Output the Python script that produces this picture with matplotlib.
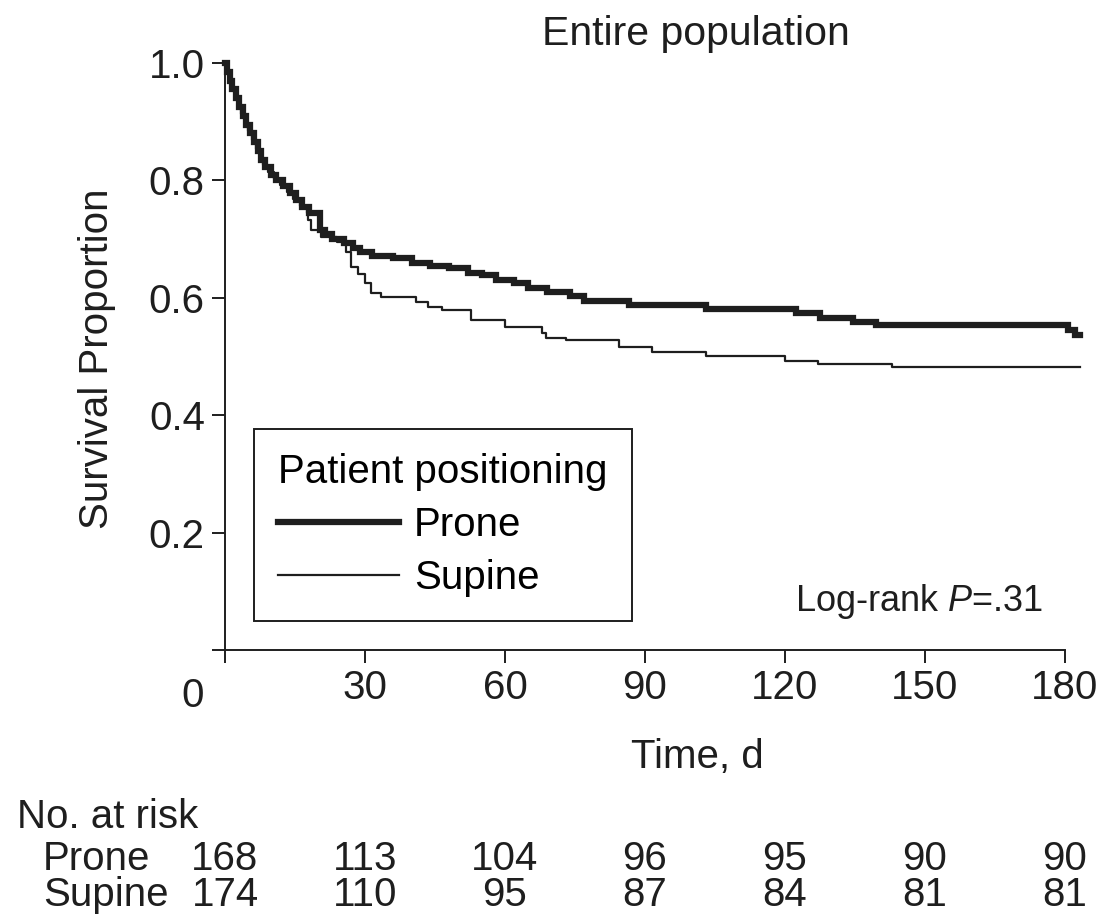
import matplotlib
matplotlib.use('Agg')
import matplotlib.pyplot as plt
import matplotlib.transforms as mtransforms

# Kaplan-Meier steps (time in days, survival after each step)
prone_t = [0, 0.5, 1.0, 1.6, 2.3, 3.0, 3.8, 4.6, 5.3, 6.2, 7.0, 7.7, 8.6, 9.8,
           11.0, 12.5, 14.0, 15.2, 16.5, 18.0, 20.4, 21.5, 23.0, 25.5, 27.5,
           29.0, 31.5, 36.0, 40.0, 44.0, 48.0, 52.0, 55.0, 58.0, 62.0, 65.0,
           69.0, 74.0, 77.0, 86.6, 103.0, 122.4, 127.4, 134.5, 139.6, 180.6,
           182.2, 183.2]
prone_s = [1.0, 0.985, 0.970, 0.955, 0.940, 0.925, 0.910, 0.895, 0.880, 0.865,
           0.850, 0.835, 0.822, 0.810, 0.800, 0.790, 0.778, 0.766, 0.755, 0.744,
           0.715, 0.708, 0.700, 0.693, 0.685, 0.678, 0.672, 0.667, 0.660, 0.655,
           0.650, 0.643, 0.638, 0.630, 0.625, 0.617, 0.610, 0.603, 0.594, 0.588,
           0.581, 0.574, 0.566, 0.559, 0.553, 0.545, 0.537, 0.537]

supine_t = [0, 0.4, 0.9, 1.5, 2.1, 2.8, 3.5, 4.3, 5.0, 5.8, 6.6, 7.4, 8.2, 9.2,
            10.4, 11.8, 13.2, 14.6, 16.0, 17.5, 17.8, 18.5, 20.6, 24.0, 26.0,
            27.1, 28.5, 30.0, 31.3, 33.5, 41.0, 43.5, 46.4, 52.8, 60.1, 67.9,
            68.7, 73.0, 84.4, 91.5, 103.0, 120.0, 127.0, 143.0, 183.2]
supine_s = [1.0, 0.986, 0.972, 0.957, 0.943, 0.928, 0.913, 0.898, 0.884, 0.869,
            0.854, 0.839, 0.826, 0.814, 0.802, 0.792, 0.780, 0.768, 0.757, 0.745,
            0.733, 0.716, 0.704, 0.695, 0.678, 0.652, 0.640, 0.625, 0.608, 0.601,
            0.593, 0.585, 0.579, 0.562, 0.550, 0.540, 0.532, 0.528, 0.516, 0.508,
            0.501, 0.492, 0.487, 0.482, 0.482]

# Number at risk table
risk_times = [0, 30, 60, 90, 120, 150, 180]
prone_risk = [168, 113, 104, 96, 95, 90, 90]
supine_risk = [174, 110, 95, 87, 84, 81, 81]

x_ticks = [0, 30, 60, 90, 120, 150, 180]
y_ticks = [0, 0.2, 0.4, 0.6, 0.8, 1.0]

# Style
plt.rcParams['font.family'] = ['Liberation Sans', 'DejaVu Sans']
plt.rcParams['mathtext.fontset'] = 'custom'
plt.rcParams['mathtext.it'] = 'Liberation Sans:italic'
plt.rcParams['mathtext.rm'] = 'Liberation Sans'
ink = '#1e1e1e'
fs = 29
W, H = 1104, 922

def fx(px):
    return px / W

def fy(py):
    return 1 - py / H

fig = plt.figure(figsize=(W / 100, H / 100), dpi=100)
ax = fig.add_axes([fx(225), fy(650), fx(1065) - fx(225), fy(63) - fy(650)])

# Curves
ax.step(prone_t, prone_s, where='post', color=ink, lw=4.5, clip_on=False,
        solid_joinstyle='miter', label='Prone')
ax.step(supine_t, supine_s, where='post', color=ink, lw=1.6, clip_on=False,
        label='Supine')

ax.set_xlim(0, 180)
ax.set_ylim(0, 1.0)

# Axes look
for side in ['top', 'right']:
    ax.spines[side].set_visible(False)
for side in ['left', 'bottom']:
    ax.spines[side].set_linewidth(1.4)
    ax.spines[side].set_color(ink)

ax.set_xticks(x_ticks)
ax.set_xticklabels([''] + [str(t) for t in x_ticks[1:]])
ax.set_yticks(y_ticks)
ax.set_yticklabels([''] + ['%.1f' % v for v in y_ticks[1:]])
ax.tick_params(axis='both', direction='out', length=9.5, width=1.4,
               colors=ink, labelsize=fs)
ax.tick_params(axis='x', pad=4)
ax.tick_params(axis='y', pad=5)

# Lone origin label
fig.text(fx(193), fy(707), '0', fontsize=fs, color=ink, ha='center', va='baseline')

# Titles and labels
fig.text(fx(696), fy(45), 'Entire population', fontsize=fs + 0.5, color=ink,
         ha='center', va='baseline')
fig.text(fx(697), fy(768), 'Time, d', fontsize=fs, color=ink,
         ha='center', va='baseline')
fig.text(fx(97), fy(359), 'Survival Proportion', fontsize=fs, color=ink,
         rotation=90, ha='center', va='center')
fig.text(fx(1043), fy(611), 'Log-rank $P$=.31', fontsize=26, color=ink,
         ha='right', va='baseline')

# Legend
leg = ax.legend(title='Patient positioning', loc='upper left',
                bbox_to_anchor=(fx(254), fy(429)), bbox_transform=fig.transFigure,
                borderaxespad=0, fontsize=fs, title_fontsize=fs,
                frameon=True, fancybox=False, framealpha=1, edgecolor=ink,
                handlelength=3.0, handletextpad=0.37, labelspacing=0.37,
                borderpad=0.6, alignment='left')
leg.get_frame().set_linewidth(1.4)
for line in leg.get_lines():
    line.set_color(ink)

# Number at risk
trans = mtransforms.blended_transform_factory(ax.transData, fig.transFigure)
fig.text(fx(17), fy(828), 'No. at risk', fontsize=fs, color=ink, ha='left',
         va='baseline')
fig.text(fx(43), fy(870), 'Prone', fontsize=fs, color=ink, ha='left', va='baseline')
fig.text(fx(43), fy(906), 'Supine', fontsize=fs, color=ink, ha='left', va='baseline')
for t, n1, n2 in zip(risk_times, prone_risk, supine_risk):
    ax.text(t, fy(870), str(n1), transform=trans, fontsize=fs, color=ink,
            ha='center', va='baseline')
    ax.text(t, fy(906), str(n2), transform=trans, fontsize=fs, color=ink,
            ha='center', va='baseline')

plt.savefig('out.png', dpi=100)
